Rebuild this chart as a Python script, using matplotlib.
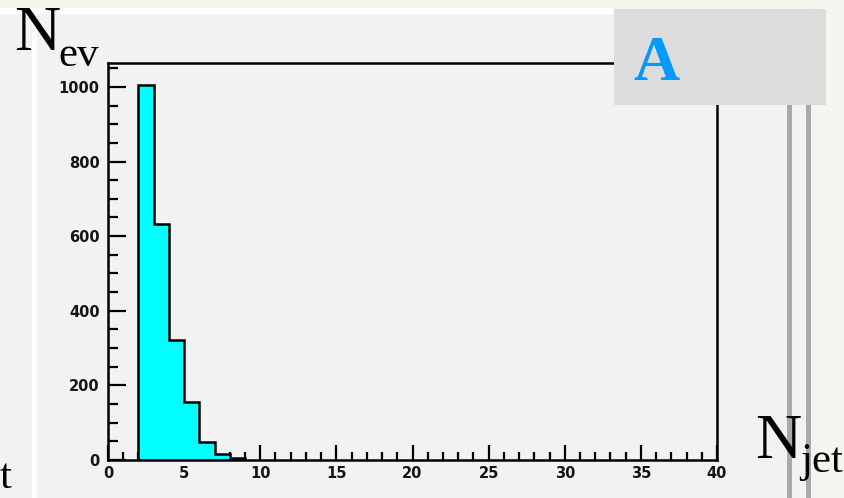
import numpy as np
import matplotlib.pyplot as plt
from matplotlib.patches import Rectangle
from matplotlib.ticker import MultipleLocator

# jet multiplicity histogram, 1-unit bins
bin_edges = [2, 3, 4, 5, 6, 7, 8, 9]
counts = [1005, 632, 322, 156, 49, 15, 5]

x_major = [0, 5, 10, 15, 20, 25, 30, 35, 40]
y_major = [0, 200, 400, 600, 800, 1000]

W, H = 844, 498
fig = plt.figure(figsize=(W / 100, H / 100), dpi=100, facecolor='#f2f2f2')


def px(x, y):
    return x / W, 1 - y / H


def band(x0, y0, x1, y1, color, z=0.5):
    fig.add_artist(Rectangle(px(x0, y1), (x1 - x0) / W, (y1 - y0) / H,
                             transform=fig.transFigure, color=color,
                             lw=0, zorder=z))


# slide background pieces
band(0, 0, W, 8, '#f4f4ef')
band(0, 8, 614, 14, '#ffffff')
band(32, 14, 37, H, '#ffffff')
band(811, 0, W, H, '#f5f5ef')
band(787, 105, 792, H, '#a9a9a9')
band(806, 105, 811, H, '#a9a9a9')

ax = fig.add_axes([108 / W, (H - 460) / H, (717 - 108) / W, (460 - 63) / H])
ax.set_facecolor('#f2f2f2')
ax.stairs(counts, bin_edges, fill=True, color='#00ffff', zorder=2)
ax.stairs(counts, bin_edges, color='black', lw=1.8, baseline=0, zorder=3)

ax.set_xlim(0, 40)
ax.set_ylim(0, 1064)
ax.set_xticks(x_major)
ax.set_yticks(y_major)
ax.xaxis.set_minor_locator(MultipleLocator(1))
ax.yaxis.set_minor_locator(MultipleLocator(50))
ax.tick_params(which='both', direction='in', width=1.6, colors='black',
               labelsize=10.5, top=False, right=False)
ax.tick_params(which='major', axis='x', length=11, pad=4)
ax.tick_params(which='minor', axis='x', length=6)
ax.tick_params(which='major', axis='y', length=13, pad=6)
ax.tick_params(which='minor', axis='y', length=7)
for lab in ax.get_xticklabels() + ax.get_yticklabels():
    lab.set_fontweight('bold')
    lab.set_color('#151515')
for s in ax.spines.values():
    s.set_linewidth(1.8)

# label box in the corner
band(614, 9, 826, 105, '#dcdcdc', z=5)

serif = 'Liberation Serif'
fig.text(*px(14, 50), 'N', fontsize=46, family=serif, va='baseline')
fig.text(*px(58, 66), 'ev', fontsize=31, family=serif, va='baseline')
fig.text(*px(755, 458), 'N', fontsize=46, family=serif, va='baseline', zorder=6)
fig.text(*px(800, 472), 'jet', fontsize=31, family=serif, va='baseline', zorder=6)
fig.text(*px(12, 488), 't', fontsize=31, family=serif, va='baseline', ha='right')
fig.text(*px(633, 80), 'A', fontsize=46, family=serif, weight='bold',
         color='#0099ff', va='baseline', zorder=6)

fig.savefig('out.png', dpi=100, facecolor=fig.get_facecolor())
